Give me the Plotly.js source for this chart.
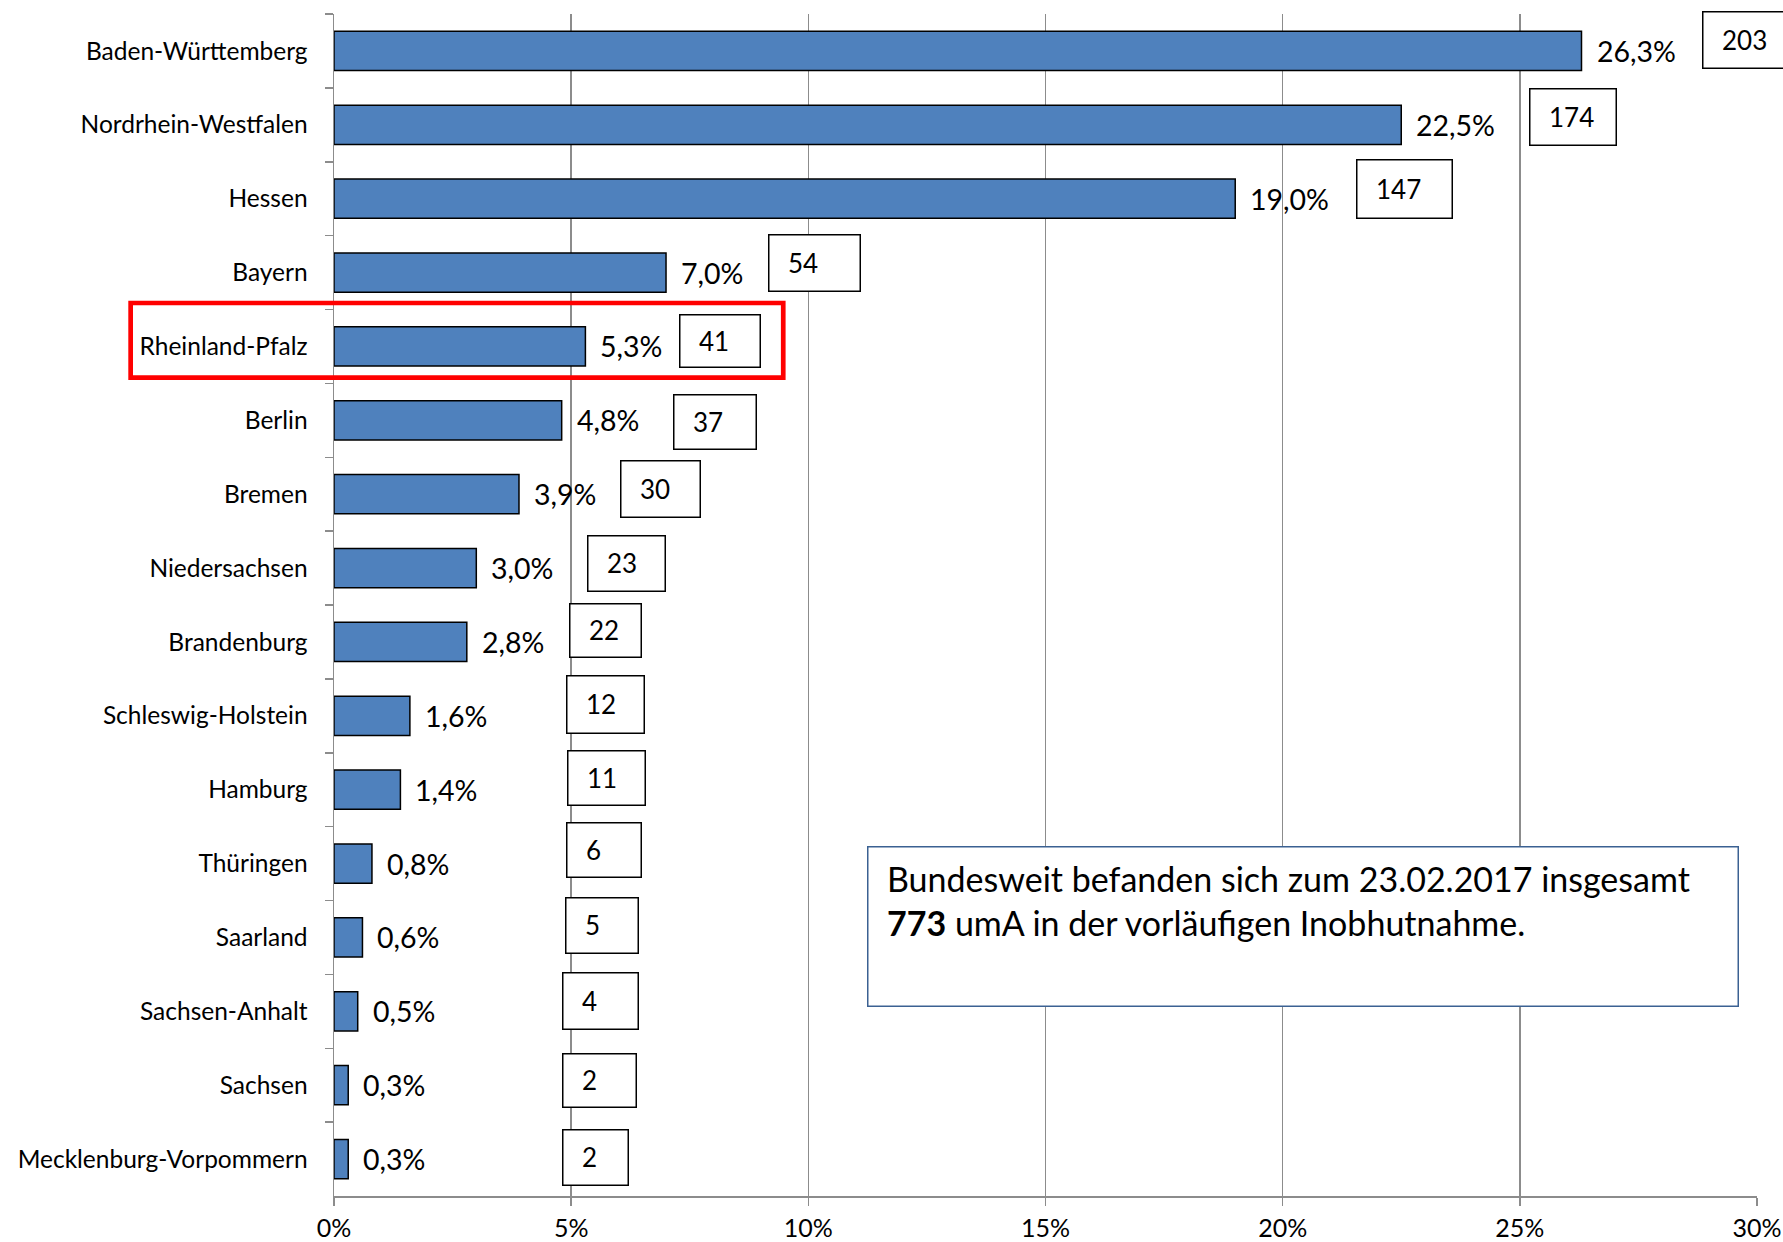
<!DOCTYPE html>
<html>
<head>
<meta charset="utf-8">
<script src="https://cdn.plot.ly/plotly-3.0.1.min.js"></script>
<style>html,body{margin:0;padding:0;background:#fff;}</style>
</head>
<body>
<div id="chart" style="width:1783px;height:1242px;"></div>
<script>
// ---- data ----
const states = ["Baden-Württemberg","Nordrhein-Westfalen","Hessen","Bayern","Rheinland-Pfalz","Berlin","Bremen","Niedersachsen","Brandenburg","Schleswig-Holstein","Hamburg","Thüringen","Saarland","Sachsen-Anhalt","Sachsen","Mecklenburg-Vorpommern"];
const shares = [26.3, 22.5, 19.0, 7.0, 5.3, 4.8, 3.9, 3.0, 2.8, 1.6, 1.4, 0.8, 0.6, 0.5, 0.3, 0.3];
const counts = [203, 174, 147, 54, 41, 37, 30, 23, 22, 12, 11, 6, 5, 4, 2, 2];
const xTickVals = [0, 5, 10, 15, 20, 25, 30];
const xTickText = ["0%", "5%", "10%", "15%", "20%", "25%", "30%"];
const totalCount = 773;
const noteDate = "23.02.2017";
const highlighted = "Rheinland-Pfalz";

// ---- layout helpers (positions of the hand-placed count boxes) ----
const boxLeft = [28.85, 25.20, 21.55, 9.14, 7.27, 7.14, 6.02, 5.34, 4.96, 4.90, 4.92, 4.90, 4.86, 4.80, 4.80, 4.80]; // x axis units
const boxShift = [11.4, 7.9, 9.2, 9.6, 5.4, -1.7, 5.2, 4.6, 11.5, 11.4, 11.8, 13.6, 12, 10.4, 4.8, 1.7]; // px
const boxW = [90, 88, 97, 93, 82, 84, 81, 79, 73, 79, 79, 76, 74, 77, 75, 67];
const boxH = [58, 58, 60, 58, 54, 56, 58, 57, 55, 59, 56, 56, 57, 58, 55, 57];

const FONT = "Lato, 'Open Sans', sans-serif";
const fmt = v => v.toFixed(1).replace('.', ',') + '%';

const trace = {
  type: 'bar',
  orientation: 'h',
  x: shares,
  y: states,
  marker: {color: '#4F81BD', line: {color: '#000000', width: 1.5}},
  hoverinfo: 'skip'
};

const annotations = [];
// percent labels
shares.forEach((v, i) => {
  annotations.push({
    x: v, y: states[i], xref: 'x', yref: 'y',
    text: fmt(v), showarrow: false, xanchor: 'left', yanchor: 'middle',
    xshift: 13, yshift: 0,
    font: {family: FONT, size: 28.5, color: '#000'}
  });
});
// count boxes
counts.forEach((c, i) => {
  const bw = 1.5;
  annotations.push({
    x: boxLeft[i], y: states[i], xref: 'x', yref: 'y',
    text: '\u00a0', showarrow: false, xanchor: 'left', yanchor: 'middle',
    yshift: boxShift[i], width: boxW[i] - 2 * bw, height: boxH[i] - 2 * bw,
    borderpad: 0, borderwidth: bw, bordercolor: '#000', bgcolor: '#ffffff',
    font: {family: FONT, size: 4, color: '#000'}
  });
  annotations.push({
    x: boxLeft[i], y: states[i], xref: 'x', yref: 'y',
    text: String(c), showarrow: false, xanchor: 'left', yanchor: 'middle',
    xshift: 18, yshift: boxShift[i],
    font: {family: FONT, size: 26, color: '#000'}
  });
});
// note box
annotations.push({
  x: 0.3746, y: 0.2961, xref: 'paper', yref: 'paper',
  text: '\u00a0', showarrow: false, xanchor: 'left', yanchor: 'top',
  width: 872 - 3, height: 161 - 3, borderpad: 0, borderwidth: 1.5,
  bordercolor: '#3B6192', bgcolor: '#ffffff', font: {family: FONT, size: 4}
});
annotations.push({
  x: 0.3746, y: 0.2961, xref: 'paper', yref: 'paper',
  text: 'Bundesweit befanden sich zum ' + noteDate + ' insgesamt<br><b>' + totalCount + '</b> umA in der vorläufigen Inobhutnahme.',
  showarrow: false, xanchor: 'left', yanchor: 'top', align: 'left',
  xshift: 18, yshift: -10,
  font: {family: FONT, size: 34, color: '#000'}
});

const layout = {
  width: 1783, height: 1242,
  margin: {l: 334, r: 26, t: 14, b: 46, pad: 0},
  paper_bgcolor: '#ffffff', plot_bgcolor: '#ffffff',
  showlegend: false, hovermode: false,
  bargap: 0.47,
  font: {family: FONT, color: '#000'},
  xaxis: {
    range: [0, 30], tickvals: xTickVals, ticktext: xTickText,
    showgrid: true, gridcolor: '#8C8C8C', gridwidth: 1.5,
    showline: true, linecolor: '#8C8C8C', linewidth: 1.5,
    ticks: 'outside', ticklen: 8, tickwidth: 1.5, tickcolor: '#8C8C8C',
    zeroline: false, ticklabelstandoff: 1,
    tickfont: {family: FONT, size: 25, color: '#000'}
  },
  yaxis: {
    type: 'category', autorange: 'reversed',
    showgrid: false, showline: true, linecolor: '#8C8C8C', linewidth: 1.5,
    ticks: 'outside', tickson: 'boundaries', ticklen: 8, tickwidth: 1.5, tickcolor: '#8C8C8C',
    ticklabelstandoff: 20,
    tickfont: {family: FONT, size: 24.5, color: '#000'}
  },
  shapes: [{
    type: 'rect', xref: 'paper', yref: 'paper',
    x0: -0.1429, x1: 0.3157, y0: 0.6923, y1: 0.7555,
    line: {color: '#FF0000', width: 4.7}, fillcolor: 'rgba(0,0,0,0)', layer: 'above'
  }],
  annotations: annotations
};

Plotly.newPlot('chart', [trace], layout, {staticPlot: true, displayModeBar: false});
</script>
</body>
</html>
